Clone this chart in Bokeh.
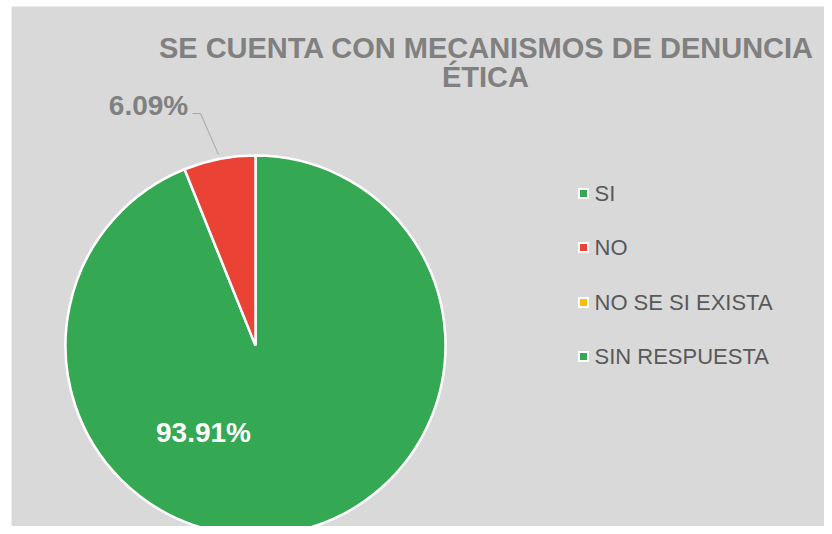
import numpy as np
from bokeh.plotting import figure
from bokeh.models import Range1d, ColumnDataSource
from bokeh.core.properties import value
from bokeh.embed import file_html
from bokeh.resources import INLINE

categories = ["SI", "NO", "NO SE SI EXISTA", "SIN RESPUESTA"]
percent = [93.91, 6.09, 0.0, 0.0]
colors = ["#34A853", "#EA4335", "#FBBC04", "#34A853"]
title_lines = ["SE CUENTA CON MECANISMOS DE DENUNCIA", "ÉTICA"]

W, H = 824, 526
LB, TB = 11, 6
FW, FH = W - LB, H - TB
BG = "#D9D9D9"

p = figure(width=W, height=H, output_backend="svg", toolbar_location=None,
           x_range=Range1d(0, FW), y_range=Range1d(0, FH),
           min_border_left=LB, min_border_top=TB, min_border_right=0, min_border_bottom=0,
           background_fill_color=BG, border_fill_color="white", outline_line_color=None)
p.axis.visible = False
p.grid.visible = False

# pie: clockwise from 12 o'clock
cx, cy, r = 244, 181, 190
frac = np.array(percent) / sum(percent)
cum = np.concatenate([[0], np.cumsum(frac)])
start = np.pi / 2 - cum[1:] * 2 * np.pi
end = np.pi / 2 - cum[:-1] * 2 * np.pi
mask = frac > 0
src = ColumnDataSource(dict(start=start[mask], end=end[mask],
                            color=[c for c, m in zip(colors, mask) if m]))
p.wedge(x=cx, y=cy, radius=r, start_angle="start", end_angle="end",
        fill_color="color", line_color="white", line_width=2.5, source=src)

# data labels
p.text(x=[192], y=[94], text=[f"{percent[0]:.2f}%"], text_color="white",
       text_font=value("Liberation Sans"), text_font_style="bold",
       text_font_size="28px", text_align="center", text_baseline="middle")
p.line(x=[181, 189, 207], y=[413, 413, 372], line_color="#A6A6A6", line_width=1)
p.text(x=[137], y=[421], text=[f"{percent[1]:.2f}%"], text_color="#808080",
       text_font=value("Liberation Sans"), text_font_style="bold",
       text_font_size="28px", text_align="center", text_baseline="middle")

# title
p.text(x=[475, 474], y=[479, 450], text=title_lines, text_color="#808080",
       text_font=value("Liberation Sans"), text_font_style="bold",
       text_font_size="29px", text_align="center", text_baseline="middle")

# legend
ly = [333, 279, 224, 170]
lx = 572
p.rect(x=[lx] * 4, y=ly, width=11, height=11, fill_color="white", line_color=None)
p.rect(x=[lx] * 4, y=ly, width=7, height=7, fill_color=colors, line_color=None)
p.text(x=[lx + 11] * 4, y=ly, text=categories, text_color="#595959",
       text_font=value("Liberation Sans"), text_font_size="22px",
       text_align="left", text_baseline="middle")

open("out.html", "w").write(file_html(p, INLINE))
